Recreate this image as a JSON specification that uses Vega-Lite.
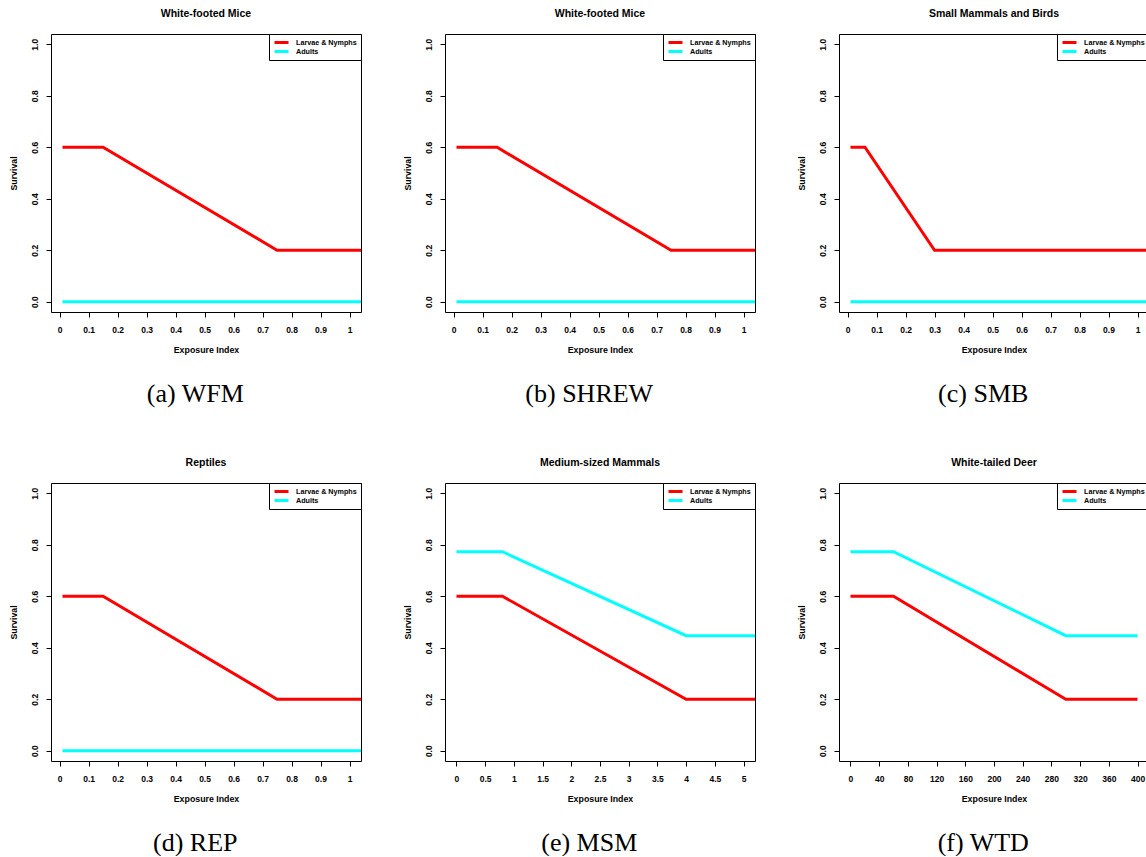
{
  "$schema": "https://vega.github.io/schema/vega-lite/v6.json",
  "padding": {"left": 8, "top": 8, "right": 0, "bottom": 0},
  "background": "white",
  "data": {"values": [
    {"panel": "WFM", "stage": "Larvae & Nymphs", "x": 0.01, "y": 0.6},
    {"panel": "WFM", "stage": "Larvae & Nymphs", "x": 0.15, "y": 0.6},
    {"panel": "WFM", "stage": "Larvae & Nymphs", "x": 0.75, "y": 0.2},
    {"panel": "WFM", "stage": "Larvae & Nymphs", "x": 1.05, "y": 0.2},
    {"panel": "WFM", "stage": "Adults", "x": 0.01, "y": 0},
    {"panel": "WFM", "stage": "Adults", "x": 1.05, "y": 0},
    {"panel": "SHREW", "stage": "Larvae & Nymphs", "x": 0.01, "y": 0.6},
    {"panel": "SHREW", "stage": "Larvae & Nymphs", "x": 0.15, "y": 0.6},
    {"panel": "SHREW", "stage": "Larvae & Nymphs", "x": 0.75, "y": 0.2},
    {"panel": "SHREW", "stage": "Larvae & Nymphs", "x": 1.05, "y": 0.2},
    {"panel": "SHREW", "stage": "Adults", "x": 0.01, "y": 0},
    {"panel": "SHREW", "stage": "Adults", "x": 1.05, "y": 0},
    {"panel": "SMB", "stage": "Larvae & Nymphs", "x": 0.01, "y": 0.6},
    {"panel": "SMB", "stage": "Larvae & Nymphs", "x": 0.06, "y": 0.6},
    {"panel": "SMB", "stage": "Larvae & Nymphs", "x": 0.3, "y": 0.2},
    {"panel": "SMB", "stage": "Larvae & Nymphs", "x": 1.05, "y": 0.2},
    {"panel": "SMB", "stage": "Adults", "x": 0.01, "y": 0},
    {"panel": "SMB", "stage": "Adults", "x": 1.05, "y": 0},
    {"panel": "REP", "stage": "Larvae & Nymphs", "x": 0.01, "y": 0.6},
    {"panel": "REP", "stage": "Larvae & Nymphs", "x": 0.15, "y": 0.6},
    {"panel": "REP", "stage": "Larvae & Nymphs", "x": 0.75, "y": 0.2},
    {"panel": "REP", "stage": "Larvae & Nymphs", "x": 1.05, "y": 0.2},
    {"panel": "REP", "stage": "Adults", "x": 0.01, "y": 0},
    {"panel": "REP", "stage": "Adults", "x": 1.05, "y": 0},
    {"panel": "MSM", "stage": "Larvae & Nymphs", "x": 0, "y": 0.6},
    {"panel": "MSM", "stage": "Larvae & Nymphs", "x": 0.8, "y": 0.6},
    {"panel": "MSM", "stage": "Larvae & Nymphs", "x": 4, "y": 0.2},
    {"panel": "MSM", "stage": "Larvae & Nymphs", "x": 5.25, "y": 0.2},
    {"panel": "MSM", "stage": "Adults", "x": 0, "y": 0.773},
    {"panel": "MSM", "stage": "Adults", "x": 0.8, "y": 0.773},
    {"panel": "MSM", "stage": "Adults", "x": 4, "y": 0.447},
    {"panel": "MSM", "stage": "Adults", "x": 5.25, "y": 0.447},
    {"panel": "WTD", "stage": "Larvae & Nymphs", "x": 0, "y": 0.6},
    {"panel": "WTD", "stage": "Larvae & Nymphs", "x": 60, "y": 0.6},
    {"panel": "WTD", "stage": "Larvae & Nymphs", "x": 300, "y": 0.2},
    {"panel": "WTD", "stage": "Larvae & Nymphs", "x": 400, "y": 0.2},
    {"panel": "WTD", "stage": "Adults", "x": 0, "y": 0.773},
    {"panel": "WTD", "stage": "Adults", "x": 60, "y": 0.773},
    {"panel": "WTD", "stage": "Adults", "x": 300, "y": 0.447},
    {"panel": "WTD", "stage": "Adults", "x": 400, "y": 0.447}
  ]},
  "spacing": 50,
  "resolve": {"scale": {"color": "independent"}, "legend": {"color": "independent"}},
  "vconcat": [
    {
      "spacing": 40,
      "resolve": {"scale": {"color": "independent"}, "legend": {"color": "independent"}},
      "hconcat": [
        {
          "title": {"text": "(a) WFM", "orient": "bottom", "font": "Liberation Serif", "fontWeight": "normal", "fontSize": 26, "offset": 26, "anchor": "middle", "frame": "bounds", "dx": 10},
          "resolve": {"scale": {"color": "independent"}, "legend": {"color": "independent"}},
          "vconcat": [{
            "width": 310, "height": 278,
            "title": {"text": "White-footed Mice"},
            "transform": [{"filter": "datum.panel == 'WFM'"}],
            "mark": {"type": "line", "strokeWidth": 3, "clip": true},
            "encoding": {
              "x": {"field": "x", "type": "quantitative", "scale": {"domain": [-0.0296, 1.0396], "nice": false, "zero": false}, "axis": {"values": [0, 0.1, 0.2, 0.3, 0.4, 0.5, 0.6, 0.7, 0.8, 0.9, 1], "format": "~g", "title": "Exposure Index"}},
              "y": {"field": "y", "type": "quantitative", "scale": {"domain": [-0.04, 1.04], "nice": false, "zero": false}, "axis": {"values": [0, 0.2, 0.4, 0.6, 0.8, 1], "format": ".1f", "title": "Survival"}},
              "color": {"field": "stage", "type": "nominal", "scale": {"domain": ["Larvae & Nymphs", "Adults"], "range": ["#ff0000", "#00ffff"]}, "legend": {"title": null}}
            }
          }]
        },
        {
          "title": {"text": "(b) SHREW", "orient": "bottom", "font": "Liberation Serif", "fontWeight": "normal", "fontSize": 26, "offset": 26, "anchor": "middle", "frame": "bounds", "dx": 10},
          "resolve": {"scale": {"color": "independent"}, "legend": {"color": "independent"}},
          "vconcat": [{
            "width": 310, "height": 278,
            "title": {"text": "White-footed Mice"},
            "transform": [{"filter": "datum.panel == 'SHREW'"}],
            "mark": {"type": "line", "strokeWidth": 3, "clip": true},
            "encoding": {
              "x": {"field": "x", "type": "quantitative", "scale": {"domain": [-0.0296, 1.0396], "nice": false, "zero": false}, "axis": {"values": [0, 0.1, 0.2, 0.3, 0.4, 0.5, 0.6, 0.7, 0.8, 0.9, 1], "format": "~g", "title": "Exposure Index"}},
              "y": {"field": "y", "type": "quantitative", "scale": {"domain": [-0.04, 1.04], "nice": false, "zero": false}, "axis": {"values": [0, 0.2, 0.4, 0.6, 0.8, 1], "format": ".1f", "title": "Survival"}},
              "color": {"field": "stage", "type": "nominal", "scale": {"domain": ["Larvae & Nymphs", "Adults"], "range": ["#ff0000", "#00ffff"]}, "legend": {"title": null}}
            }
          }]
        },
        {
          "title": {"text": "(c) SMB", "orient": "bottom", "font": "Liberation Serif", "fontWeight": "normal", "fontSize": 26, "offset": 26, "anchor": "middle", "frame": "bounds", "dx": 10},
          "resolve": {"scale": {"color": "independent"}, "legend": {"color": "independent"}},
          "vconcat": [{
            "width": 310, "height": 278,
            "title": {"text": "Small Mammals and Birds"},
            "transform": [{"filter": "datum.panel == 'SMB'"}],
            "mark": {"type": "line", "strokeWidth": 3, "clip": true},
            "encoding": {
              "x": {"field": "x", "type": "quantitative", "scale": {"domain": [-0.0296, 1.0396], "nice": false, "zero": false}, "axis": {"values": [0, 0.1, 0.2, 0.3, 0.4, 0.5, 0.6, 0.7, 0.8, 0.9, 1], "format": "~g", "title": "Exposure Index"}},
              "y": {"field": "y", "type": "quantitative", "scale": {"domain": [-0.04, 1.04], "nice": false, "zero": false}, "axis": {"values": [0, 0.2, 0.4, 0.6, 0.8, 1], "format": ".1f", "title": "Survival"}},
              "color": {"field": "stage", "type": "nominal", "scale": {"domain": ["Larvae & Nymphs", "Adults"], "range": ["#ff0000", "#00ffff"]}, "legend": {"title": null}}
            }
          }]
        }
      ]
    },
    {
      "spacing": 40,
      "resolve": {"scale": {"color": "independent"}, "legend": {"color": "independent"}},
      "hconcat": [
        {
          "title": {"text": "(d) REP", "orient": "bottom", "font": "Liberation Serif", "fontWeight": "normal", "fontSize": 26, "offset": 26, "anchor": "middle", "frame": "bounds", "dx": 10},
          "resolve": {"scale": {"color": "independent"}, "legend": {"color": "independent"}},
          "vconcat": [{
            "width": 310, "height": 278,
            "title": {"text": "Reptiles"},
            "transform": [{"filter": "datum.panel == 'REP'"}],
            "mark": {"type": "line", "strokeWidth": 3, "clip": true},
            "encoding": {
              "x": {"field": "x", "type": "quantitative", "scale": {"domain": [-0.0296, 1.0396], "nice": false, "zero": false}, "axis": {"values": [0, 0.1, 0.2, 0.3, 0.4, 0.5, 0.6, 0.7, 0.8, 0.9, 1], "format": "~g", "title": "Exposure Index"}},
              "y": {"field": "y", "type": "quantitative", "scale": {"domain": [-0.04, 1.04], "nice": false, "zero": false}, "axis": {"values": [0, 0.2, 0.4, 0.6, 0.8, 1], "format": ".1f", "title": "Survival"}},
              "color": {"field": "stage", "type": "nominal", "scale": {"domain": ["Larvae & Nymphs", "Adults"], "range": ["#ff0000", "#00ffff"]}, "legend": {"title": null}}
            }
          }]
        },
        {
          "title": {"text": "(e) MSM", "orient": "bottom", "font": "Liberation Serif", "fontWeight": "normal", "fontSize": 26, "offset": 26, "anchor": "middle", "frame": "bounds", "dx": 10},
          "resolve": {"scale": {"color": "independent"}, "legend": {"color": "independent"}},
          "vconcat": [{
            "width": 310, "height": 278,
            "title": {"text": "Medium-sized Mammals"},
            "transform": [{"filter": "datum.panel == 'MSM'"}],
            "mark": {"type": "line", "strokeWidth": 3, "clip": true},
            "encoding": {
              "x": {"field": "x", "type": "quantitative", "scale": {"domain": [-0.2, 5.2], "nice": false, "zero": false}, "axis": {"values": [0, 0.5, 1, 1.5, 2, 2.5, 3, 3.5, 4, 4.5, 5], "format": "~g", "title": "Exposure Index"}},
              "y": {"field": "y", "type": "quantitative", "scale": {"domain": [-0.04, 1.04], "nice": false, "zero": false}, "axis": {"values": [0, 0.2, 0.4, 0.6, 0.8, 1], "format": ".1f", "title": "Survival"}},
              "color": {"field": "stage", "type": "nominal", "scale": {"domain": ["Larvae & Nymphs", "Adults"], "range": ["#ff0000", "#00ffff"]}, "legend": {"title": null}}
            }
          }]
        },
        {
          "title": {"text": "(f) WTD", "orient": "bottom", "font": "Liberation Serif", "fontWeight": "normal", "fontSize": 26, "offset": 26, "anchor": "middle", "frame": "bounds", "dx": 10},
          "resolve": {"scale": {"color": "independent"}, "legend": {"color": "independent"}},
          "vconcat": [{
            "width": 310, "height": 278,
            "title": {"text": "White-tailed Deer"},
            "transform": [{"filter": "datum.panel == 'WTD'"}],
            "mark": {"type": "line", "strokeWidth": 3, "clip": true},
            "encoding": {
              "x": {"field": "x", "type": "quantitative", "scale": {"domain": [-16, 416], "nice": false, "zero": false}, "axis": {"values": [0, 40, 80, 120, 160, 200, 240, 280, 320, 360, 400], "format": "d", "title": "Exposure Index"}},
              "y": {"field": "y", "type": "quantitative", "scale": {"domain": [-0.04, 1.04], "nice": false, "zero": false}, "axis": {"values": [0, 0.2, 0.4, 0.6, 0.8, 1], "format": ".1f", "title": "Survival"}},
              "color": {"field": "stage", "type": "nominal", "scale": {"domain": ["Larvae & Nymphs", "Adults"], "range": ["#ff0000", "#00ffff"]}, "legend": {"title": null}}
            }
          }]
        }
      ]
    }
  ],
  "config": {
    "view": {"stroke": "black", "strokeWidth": 1},
    "title": {"font": "Liberation Sans", "fontWeight": "bold", "fontSize": 10.5, "color": "black", "frame": "group", "offset": 14},
    "axis": {"domain": false, "grid": false, "ticks": true, "tickColor": "black", "tickSize": 5, "labelFont": "Liberation Sans", "labelFontWeight": "bold", "labelFontSize": 8.5, "labelColor": "black", "titleFont": "Liberation Sans", "titleFontWeight": "bold", "titleFontSize": 8.8, "titleColor": "black", "labelFlush": false, "labelOverlap": false},
    "axisX": {"labelAngle": 0, "labelPadding": 8, "titlePadding": 12},
    "axisY": {"labelAngle": -90, "labelAlign": "center", "labelBaseline": "bottom", "labelPadding": 7, "titlePadding": 12},
    "legend": {"orient": "top-right", "offset": 0, "strokeColor": "black", "fillColor": "white", "padding": 4, "cornerRadius": 0, "symbolType": "stroke", "symbolSize": 196, "symbolStrokeWidth": 3, "labelFont": "Liberation Sans", "labelFontWeight": "bold", "labelFontSize": 7.2, "labelColor": "black", "labelOffset": 6, "clipHeight": 9, "rowPadding": 0}
  }
}
